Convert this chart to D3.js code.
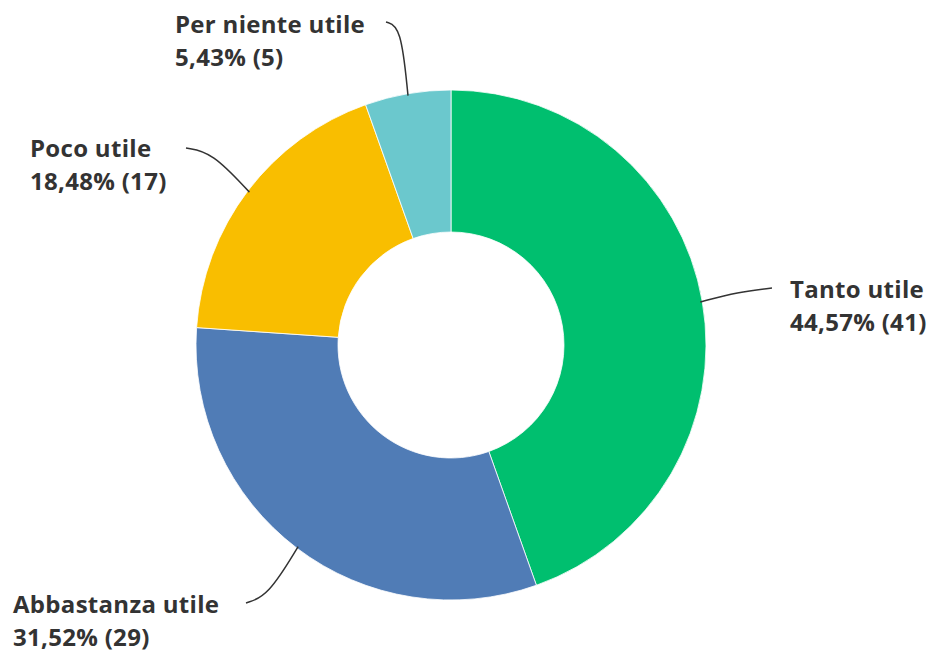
<!DOCTYPE html>
<html>
<head>
<meta charset="utf-8">
<script src="https://cdn.jsdelivr.net/npm/d3@7"></script>
<style>
  body { margin: 0; background: #fff; }
  .lbl { font-family: "Open Sans", sans-serif; font-weight: 700; font-size: 24px; letter-spacing: 0.3px; fill: #333; }
</style>
</head>
<body>
<div id="chart"></div>
<script>
// data, clockwise from 12 o'clock
const categories = ["Tanto utile", "Abbastanza utile", "Poco utile", "Per niente utile"];
const counts = [41, 29, 17, 5];
const percents = ["44,57%", "31,52%", "18,48%", "5,43%"];
const colors = ["#00BF6F", "#507CB6", "#F9BE00", "#6BC8CD"];

const WIDTH = 943, HEIGHT = 652;
const CX = 451, CY = 345, R_OUT = 255, R_IN = 113;

// label placement (left x of text, y of first baseline) and leader line end
const labelPos = [
    { x: 790, y: 298, end: [772, 288], bend: [738, 292] },
    { x: 13, y: 613, end: [246, 603], bend: [268, 596] },
    { x: 30, y: 157, end: [186, 148], bend: [212, 152] },
    { x: 175, y: 33, end: [386, 22], bend: [401, 26] }
];

const svg = d3.select("#chart").append("svg")
    .attr("width", WIDTH)
    .attr("height", HEIGHT);

const g = svg.append("g")
    .attr("transform", `translate(${CX},${CY})`);

const pie = d3.pie().sort(null).value(d => d);
const arcs = pie(counts);

const arc = d3.arc().innerRadius(R_IN).outerRadius(R_OUT);

g.selectAll("path.slice")
    .data(arcs)
    .join("path")
    .attr("class", "slice")
    .attr("d", arc)
    .attr("fill", (d, i) => colors[i])
    .attr("stroke", "#fff")
    .attr("stroke-width", 0.8);

// leader lines start on the outer edge at the middle of each slice
const line = d3.line().curve(d3.curveBasis);
arcs.forEach((d, i) => {
    const a = (d.startAngle + d.endAngle) / 2;
    const start = [CX + (R_OUT - 2) * Math.sin(a), CY - (R_OUT - 2) * Math.cos(a)];
    const p = labelPos[i];
    svg.append("path")
        .attr("d", line([start, p.bend, p.end]))
        .attr("fill", "none")
        .attr("stroke", "#333")
        .attr("stroke-width", 1.5);

    const t = svg.append("text")
        .attr("class", "lbl")
        .attr("x", p.x)
        .attr("y", p.y);
    t.append("tspan").attr("x", p.x).text(categories[i]);
    t.append("tspan").attr("x", p.x).attr("dy", 33).text(`${percents[i]} (${counts[i]})`);
});
</script>
</body>
</html>
